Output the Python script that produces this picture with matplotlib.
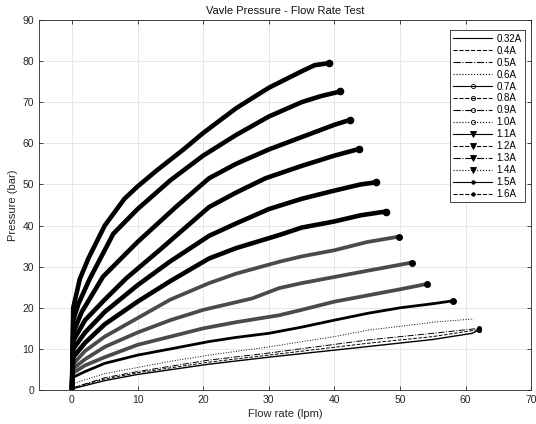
import matplotlib
matplotlib.use('Agg')
import matplotlib.pyplot as plt
from matplotlib.lines import Line2D

plt.rcParams['font.family'] = ['Liberation Sans', 'DejaVu Sans']

# Werte (Durchfluss in lpm, Druck in bar)
q_032 = [0, 5, 10, 20.9, 30, 45.2, 55, 61, 62]
p_032 = [0.3, 2.3, 3.8, 6.3, 8.0, 10.6, 12.3, 13.8, 14.6]
q_04 = [0, 5, 10, 20.9, 30, 45.2, 55, 62]
p_04 = [0.5, 2.7, 4.2, 6.8, 8.5, 11.4, 13.0, 14.7]
q_05 = [0, 5, 10, 20.9, 30, 45.2, 55, 62]
p_05 = [0.5, 3.0, 4.5, 7.3, 9.0, 12.2, 13.8, 15.0]
q_06 = [0, 5, 10, 15, 20.9, 30, 40, 45.2, 50, 55, 61.2]
p_06 = [1.5, 4.0, 5.5, 7.0, 8.5, 10.5, 13.0, 14.6, 15.5, 16.5, 17.3]
q_07 = [0, 0, 2, 5, 10, 15, 20.9, 25, 30, 35, 40, 45.2, 50, 55, 58.1]
p_07 = [0, 3, 4.5, 6.5, 8.5, 10.0, 11.8, 12.8, 13.8, 15.3, 17.0, 18.7, 20.0, 21.0, 21.7]
q_08 = [0, 0, 2, 5, 10, 15, 20, 25, 31.6, 35, 40, 45, 50, 54.1]
p_08 = [0, 4, 6, 8, 11, 13, 15, 16.5, 18.2, 19.5, 21.5, 23.0, 24.5, 25.8]
q_09 = [0, 0, 2, 5, 10, 15, 20, 27.5, 31.6, 35, 40, 45, 51.8]
p_09 = [0, 5, 7.5, 10.5, 14, 17, 19.5, 22.3, 24.8, 26.0, 27.5, 29.0, 31.0]
q_10 = [0, 0, 2, 5, 10, 15, 20.9, 25, 31.6, 35, 40, 45, 49.8]
p_10 = [0, 6, 9.5, 13, 17.5, 22, 26.0, 28.3, 31.2, 32.5, 34.0, 36.0, 37.3]
q_11 = [0, 0.2, 2, 5, 10, 15, 20.9, 25, 31.6, 35, 40, 44, 47.8]
p_11 = [0, 8, 11.5, 16, 21.5, 26.5, 32, 34.5, 37.7, 39.5, 41.0, 42.5, 43.4]
q_12 = [0, 0.2, 2, 5, 10, 14.9, 20.9, 25, 30, 35, 40, 44, 46.3]
p_12 = [0, 10, 14, 19, 25.5, 31.2, 37.5, 40.5, 44, 46.5, 48.5, 50.0, 50.5]
q_13 = [0, 0.2, 2, 5, 8.3, 13.4, 20.9, 25, 29.5, 35, 40, 43.7]
p_13 = [0, 12, 17, 22, 27.2, 34.1, 44.5, 48, 51.5, 54.5, 57.0, 58.6]
q_14 = [0, 0.2, 1.5, 4.75, 10, 15.9, 20.9, 25, 30, 35, 40, 42.4]
p_14 = [0, 14, 19, 27.6, 36, 44.6, 51.5, 55, 58.5, 61.5, 64.5, 65.7]
q_15 = [0, 0.2, 1, 2.7, 6.3, 10, 15, 20, 25, 30, 35, 38, 40.9]
p_15 = [0, 17, 21, 27, 38, 44, 51, 57, 62, 66.5, 70, 71.5, 72.6]
q_16 = [0, 0.2, 1.2, 2.5, 5, 8, 10, 13, 17, 20, 25, 30, 35, 37, 39.2]
p_16 = [0, 20, 27, 32, 40, 46.5, 49.5, 53.5, 58.5, 62.5, 68.5, 73.5, 77.5, 79, 79.5]

labels = ['0.32A', '0.4A', '0.5A', '0.6A', '0.7A', '0.8A', '0.9A', '1.0A',
          '1.1A', '1.2A', '1.3A', '1.4A', '1.5A', '1.6A']
flows = [q_032, q_04, q_05, q_06, q_07, q_08, q_09, q_10,
         q_11, q_12, q_13, q_14, q_15, q_16]
pressures = [p_032, p_04, p_05, p_06, p_07, p_08, p_09, p_10,
             p_11, p_12, p_13, p_14, p_15, p_16]

linestyles = ['-', '--', '-.', ':'] * 4
markers = ['None'] * 4 + ['o'] * 4 + ['v'] * 4 + ['.'] * 2

fig = plt.figure(figsize=(5.36, 4.24), dpi=100)
ax = fig.add_axes([0.073, 0.080, 0.918, 0.873])

for i in range(len(labels)):
    q, p = flows[i], pressures[i]
    if i < 4:
        # duenne Linien ohne Marker
        lw = 1.0 if i == 0 else 0.7
        ax.plot(q, p, color='black', lw=lw, ls=linestyles[i], zorder=3)
        if i != 3:
            ax.plot(q[-1], p[-1], 'o', color='black', ms=2.5, zorder=3)
    elif i < 8:
        col = 'black' if i == 4 else '#4a4a4a'
        lw = 2.0 if i == 4 else 2.7
        ax.plot(q, p, color=col, lw=lw, solid_capstyle='round',
                solid_joinstyle='round', zorder=3)
        ax.plot(q[-1], p[-1], 'o', color='black', ms=4, zorder=3)
    else:
        ax.plot(q, p, color='black', lw=3.3, solid_capstyle='round',
                solid_joinstyle='round', zorder=3)
        ax.plot(q[-1], p[-1], 'o', color='black', ms=4.5, zorder=3)

ax.set_xlim(-5, 70)
ax.set_ylim(0, 90)
ax.set_xticks(range(0, 71, 10))
ax.set_yticks(range(0, 91, 10))
ax.grid(True, color='#e3e3e3', lw=0.6)
ax.set_axisbelow(True)
ax.tick_params(direction='in', length=3, top=True, right=True,
               labelsize=7.5, colors='#262626', width=0.6)
for s in ax.spines.values():
    s.set_color('#262626')
    s.set_linewidth(0.6)

ax.set_title('Vavle Pressure - Flow Rate Test', fontsize=8, color='#111111', pad=4)
ax.set_xlabel('Flow rate (lpm)', fontsize=8, color='#262626', labelpad=3)
ax.set_ylabel('Pressure (bar)', fontsize=8, color='#262626', labelpad=3)

# Legende mit duennen Linien wie im Original
handles = []
for i in range(len(labels)):
    mfc = 'none' if markers[i] == 'o' else 'black'
    ms = 3 if markers[i] == 'o' else (4 if markers[i] == 'v' else 5)
    handles.append(Line2D([], [], color='black', lw=0.8, ls=linestyles[i],
                          marker=markers[i], ms=ms, mfc=mfc, mec='black', mew=0.6))
leg = ax.legend(handles, labels, loc='upper right', bbox_to_anchor=(0.997, 0.985),
                fontsize=7, handlelength=4.0, labelspacing=0.2, handletextpad=0.4,
                borderpad=0.35, fancybox=False, framealpha=1)
leg.get_frame().set_edgecolor('#262626')
leg.get_frame().set_linewidth(0.6)

fig.savefig('out.png', dpi=100)
